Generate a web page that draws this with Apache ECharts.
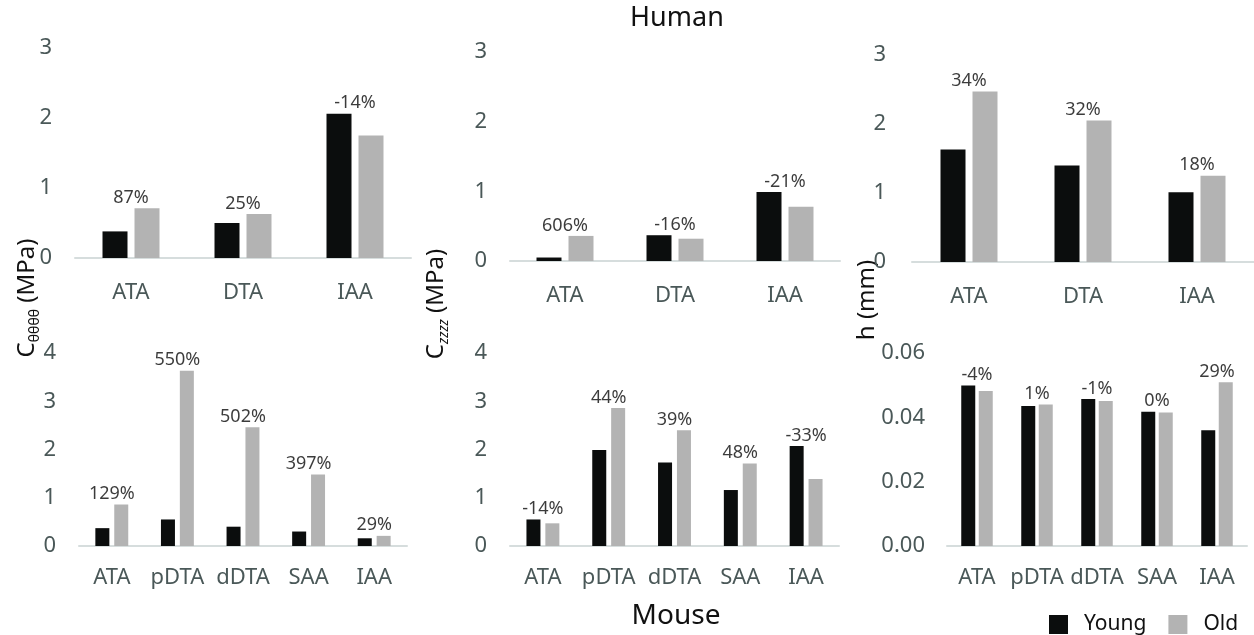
<!DOCTYPE html>
<html>
<head>
<meta charset="utf-8">
<script src="https://cdn.jsdelivr.net/npm/echarts@6/dist/echarts.min.js"></script>
<style>
html,body{margin:0;padding:0;background:#fff;}
#chart{width:1254px;height:635px;}
</style>
</head>
<body>
<div id="chart"></div>
<script>
// ---- data ----
const humanCats = ['ATA', 'DTA', 'IAA'];
const mouseCats = ['ATA', 'pDTA', 'dDTA', 'SAA', 'IAA'];

const humanCthetaYoung = [0.38, 0.50, 2.06];
const humanCthetaOld   = [0.71, 0.63, 1.75];
const humanCthetaPct   = ['87%', '25%', '-14%'];

const humanCzzYoung = [0.05, 0.37, 0.99];
const humanCzzOld   = [0.36, 0.32, 0.78];
const humanCzzPct   = ['606%', '-16%', '-21%'];

const humanHYoung = [1.63, 1.40, 1.01];
const humanHOld   = [2.47, 2.05, 1.25];
const humanHPct   = ['34%', '32%', '18%'];

const mouseCthetaYoung = [0.37, 0.55, 0.40, 0.30, 0.16];
const mouseCthetaOld   = [0.86, 3.63, 2.46, 1.48, 0.21];
const mouseCthetaPct   = ['129%', '550%', '502%', '397%', '29%'];

const mouseCzzYoung = [0.55, 1.99, 1.73, 1.16, 2.07];
const mouseCzzOld   = [0.47, 2.86, 2.40, 1.71, 1.39];
const mouseCzzPct   = ['-14%', '44%', '39%', '48%', '-33%'];

const mouseHYoung = [0.0499, 0.0435, 0.0457, 0.0417, 0.0360];
const mouseHOld   = [0.0482, 0.0440, 0.0451, 0.0415, 0.0509];
const mouseHPct   = ['-4%', '1%', '-1%', '0%', '29%'];

const humanTicksMax = 3, mouseCTicksMax = 4, mouseHTicksMax = 0.06;

// ---- layout / style ----
const FONT = '"Noto Sans", sans-serif';
const TICK_COLOR = '#4a5858';
const AXIS_COLOR = '#d6dddd';
const YOUNG_COLOR = '#0b0d0d';
const OLD_COLOR = '#b3b3b3';

const panels = [
  {cats: humanCats, y: humanCthetaYoung, o: humanCthetaOld, p: humanCthetaPct, max: humanTicksMax, interval: 1,
   grid: {left: 75, top: 48, width: 336, height: 210}, bw: 25, gap: '28%', xm: 24, ym: 23},
  {cats: humanCats, y: humanCzzYoung, o: humanCzzOld, p: humanCzzPct, max: humanTicksMax, interval: 1,
   grid: {left: 510, top: 52, width: 330, height: 209}, bw: 25, gap: '28%', xm: 24, ym: 23},
  {cats: humanCats, y: humanHYoung, o: humanHOld, p: humanHPct, max: humanTicksMax, interval: 1,
   grid: {left: 912, top: 55, width: 342, height: 207}, bw: 25, gap: '28%', xm: 24, ym: 26},
  {cats: mouseCats, y: mouseCthetaYoung, o: mouseCthetaOld, p: mouseCthetaPct, max: mouseCTicksMax, interval: 1,
   grid: {left: 79, top: 353, width: 328, height: 193}, bw: 14, gap: '35%', xm: 21, ym: 23},
  {cats: mouseCats, y: mouseCzzYoung, o: mouseCzzOld, p: mouseCzzPct, max: mouseCTicksMax, interval: 1,
   grid: {left: 510, top: 353, width: 329, height: 193}, bw: 14, gap: '35%', xm: 21, ym: 23},
  {cats: mouseCats, y: mouseHYoung, o: mouseHOld, p: mouseHPct, max: mouseHTicksMax, interval: 0.02,
   grid: {left: 947, top: 353, width: 300, height: 193}, bw: 14, gap: '25%', xm: 21, ym: 22, fmt: v => v.toFixed(2)}
];

const grids = [], xAxes = [], yAxes = [], series = [];
panels.forEach((pn, i) => {
  grids.push(Object.assign({containLabel: false}, pn.grid));
  xAxes.push({
    type: 'category', gridIndex: i, data: pn.cats,
    axisLine: {show: true, lineStyle: {color: AXIS_COLOR, width: 2}},
    axisTick: {show: false},
    axisLabel: {fontFamily: FONT, fontSize: 22, color: TICK_COLOR, margin: pn.xm, interval: 0},
    splitLine: {show: false}
  });
  yAxes.push({
    type: 'value', gridIndex: i, min: 0, max: pn.max, interval: pn.interval,
    axisLine: {show: false}, axisTick: {show: false}, splitLine: {show: false},
    axisLabel: {fontFamily: FONT, fontSize: 22, color: TICK_COLOR, margin: pn.ym,
                formatter: pn.fmt ? pn.fmt : (v => String(v))}
  });
  series.push({
    name: 'Young', type: 'bar', xAxisIndex: i, yAxisIndex: i, data: pn.y,
    barWidth: pn.bw, barGap: pn.gap, itemStyle: {color: YOUNG_COLOR}
  });
  series.push({
    name: 'Old', type: 'bar', xAxisIndex: i, yAxisIndex: i, data: pn.o,
    barWidth: pn.bw, barGap: pn.gap, itemStyle: {color: OLD_COLOR}
  });
  series.push({
    name: 'pct' + i, type: 'scatter', xAxisIndex: i, yAxisIndex: i,
    symbolSize: 1, itemStyle: {color: 'rgba(0,0,0,0)'},
    data: pn.y.map((v, k) => ({value: Math.max(v, pn.o[k]), pct: pn.p[k]})),
    label: {
      show: true, position: 'top', distance: 1,
      fontFamily: FONT, fontSize: 18, color: '#0a0a0a',
      formatter: prm => prm.data.pct
    },
    silent: true, z: 5
  });
});

const chart = echarts.init(document.getElementById('chart'), null, {renderer: 'canvas'});
chart.setOption({
  animation: false,
  backgroundColor: '#ffffff',
  grid: grids,
  xAxis: xAxes,
  yAxis: yAxes,
  series: series,
  legend: {
    data: ['Young', 'Old'],
    left: 1044, top: 609,
    icon: 'rect', itemWidth: 19, itemHeight: 19, itemGap: 22,
    textStyle: {fontFamily: FONT, fontSize: 21, color: '#111', padding: [0, 0, 0, 11]}
  },
  graphic: [
    {type: 'text', x: 677, y: 18, style: {text: 'Human', fontFamily: FONT, fontSize: 27, fill: '#111',
      textAlign: 'center', textVerticalAlign: 'middle'}},
    {type: 'text', x: 676, y: 616, style: {text: 'Mouse', fontFamily: FONT, fontSize: 28, fill: '#111',
      textAlign: 'center', textVerticalAlign: 'middle'}},
    {type: 'text', x: 27, y: 298, rotation: Math.PI / 2,
      style: {text: '{m|C}{s|θθθθ}{m| (MPa)}', textAlign: 'center', textVerticalAlign: 'middle',
        rich: {
          m: {fontFamily: FONT, fontSize: 24, fill: '#111', lineHeight: 30},
          s: {fontFamily: FONT, fontSize: 14, fill: '#111', lineHeight: 15, verticalAlign: 'bottom'}
        }}},
    {type: 'text', x: 436, y: 304, rotation: Math.PI / 2,
      style: {text: '{m|C}{s|zzzz}{m| (MPa)}', textAlign: 'center', textVerticalAlign: 'middle',
        rich: {
          m: {fontFamily: FONT, fontSize: 24, fill: '#111', lineHeight: 30},
          s: {fontFamily: FONT, fontSize: 14, fontStyle: 'italic', fill: '#111', lineHeight: 15, verticalAlign: 'bottom'}
        }}},
    {type: 'text', x: 867, y: 300, rotation: Math.PI / 2,
      style: {text: 'h (mm)', fontFamily: FONT, fontSize: 24, fill: '#111',
        textAlign: 'center', textVerticalAlign: 'middle'}}
  ]
});
</script>
</body>
</html>
